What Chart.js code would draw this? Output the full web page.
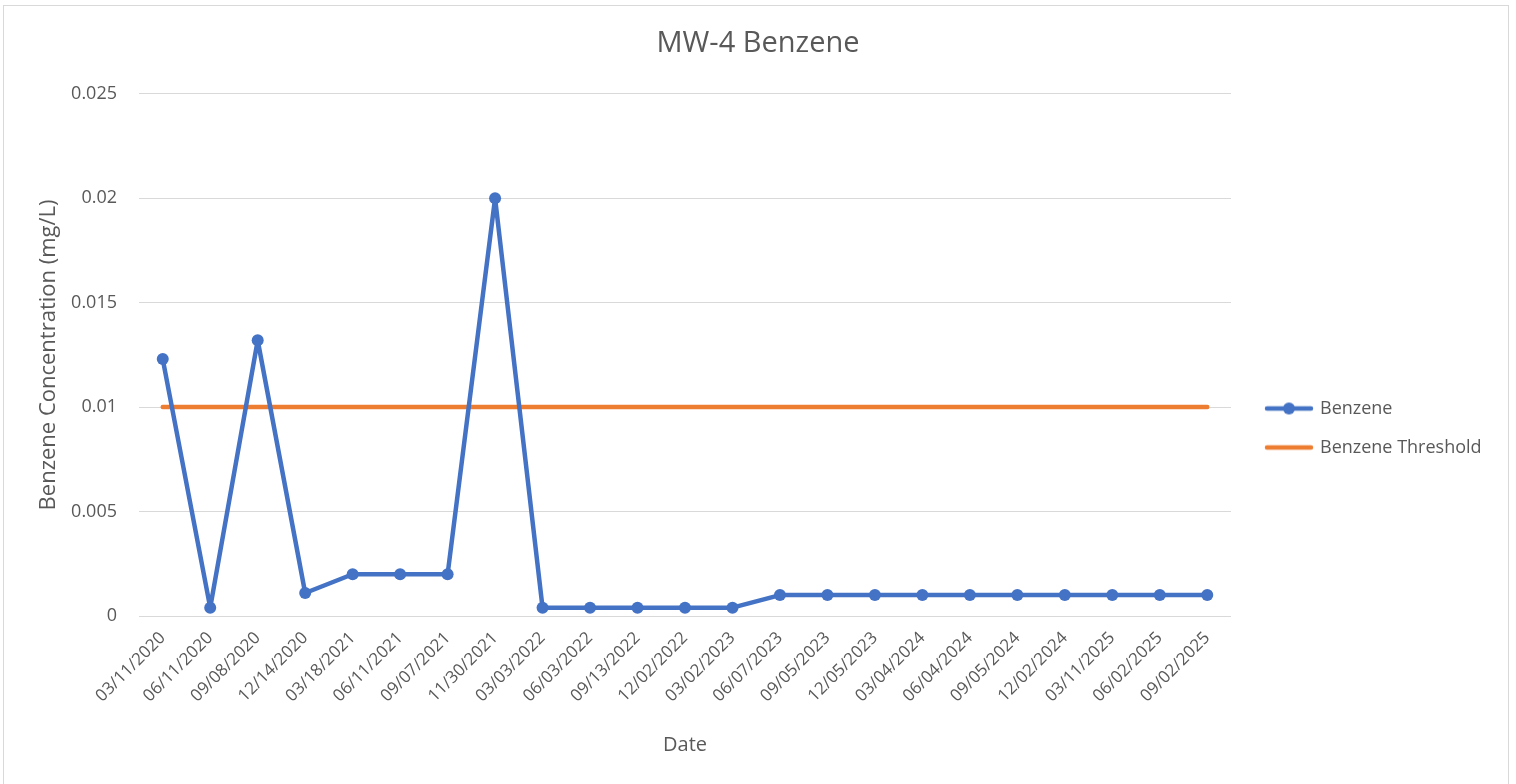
<!DOCTYPE html>
<html>
<head>
<meta charset="utf-8">
<title>MW-4 Benzene</title>
<script src="https://cdn.jsdelivr.net/npm/chart.js@4.4.1/dist/chart.umd.min.js"></script>
<style>
  html,body{margin:0;padding:0;background:#fff}
  #wrap{width:1516px;height:784px}
</style>
</head>
<body>
<div id="wrap"><canvas id="chart" width="1516" height="784"></canvas></div>
<script>
// sample dates and results
const dates = ['03/11/2020','06/11/2020','09/08/2020','12/14/2020','03/18/2021','06/11/2021','09/07/2021','11/30/2021',
  '03/03/2022','06/03/2022','09/13/2022','12/02/2022','03/02/2023','06/07/2023','09/05/2023','12/05/2023',
  '03/04/2024','06/04/2024','09/05/2024','12/02/2024','03/11/2025','06/02/2025','09/02/2025'];
const benzene = [0.0123,0.0004,0.0132,0.0011,0.002,0.002,0.002,0.02,
  0.0004,0.0004,0.0004,0.0004,0.0004,0.001,0.001,0.001,
  0.001,0.001,0.001,0.001,0.001,0.001,0.001];
const threshold = [0.01,0.01,0.01,0.01,0.01,0.01,0.01,0.01,
  0.01,0.01,0.01,0.01,0.01,0.01,0.01,0.01,
  0.01,0.01,0.01,0.01,0.01,0.01,0.01];
const yMin = 0, yMax = 0.025, yStep = 0.005;

const BLUE = '#4472C4', ORANGE = '#ED7D31', TEXT = '#595959', GRID = '#d9d9d9';
const FONT = "'Open Sans', 'Noto Sans', sans-serif";

function legendIcon(color, marker){
  const c = document.createElement('canvas'); c.width = 50; c.height = 14;
  const g = c.getContext('2d');
  g.strokeStyle = color; g.lineWidth = 4.5; g.lineCap = 'round';
  g.beginPath(); g.moveTo(3,7); g.lineTo(47,7); g.stroke();
  if (marker){ g.fillStyle = color; g.beginPath(); g.arc(25,7,6,0,Math.PI*2); g.fill(); }
  return c;
}
const icons = [legendIcon(BLUE,true), legendIcon(ORANGE,false)];

// legend gets a fixed slot on the right, items nudged like the original
const legendSlot = {
  id:'legendSlot',
  beforeLayout(chart){
    const lg = chart.legend;
    if (lg && !lg._slotFixed){
      const fit = lg.fit.bind(lg);
      lg.fit = function(){ fit(); this.width = 285; };
      lg._slotFixed = true;
    }
  },
  afterLayout(chart){
    const lg = chart.legend;
    lg.left += 15; lg.right += 15;
    lg.top += 46; lg.bottom += 46;
  }
};
const frame = {
  id:'frame',
  beforeDraw(chart){
    const c = chart.ctx;
    c.save();
    c.fillStyle = '#fff'; c.fillRect(0,0,chart.width,chart.height);
    c.strokeStyle = GRID; c.lineWidth = 1;
    c.strokeRect(3.5,5.5,1505,800);
    c.restore();
  }
};

const ctx = document.getElementById('chart').getContext('2d');
new Chart(ctx,{
  type:'line',
  data:{labels:dates, datasets:[
    {label:'Benzene',data:benzene,borderColor:BLUE,backgroundColor:BLUE,borderWidth:4.5,borderJoinStyle:'round',
     pointRadius:6,pointBackgroundColor:BLUE,pointBorderColor:BLUE,pointBorderWidth:0,tension:0},
    {label:'Benzene Threshold',data:threshold,borderColor:ORANGE,backgroundColor:ORANGE,borderWidth:4.5,
     borderCapStyle:'round',pointRadius:0,tension:0}
  ]},
  options:{
    responsive:false, animation:false, devicePixelRatio:1,
    layout:{padding:{left:0,right:0,top:0,bottom:20}},
    plugins:{
      title:{display:true,text:'MW-4 Benzene',color:TEXT,font:{family:FONT,size:29,weight:'normal'},padding:{top:26,bottom:33}},
      legend:{position:'right',align:'center',
        labels:{usePointStyle:true,pointStyleWidth:44,padding:21,color:TEXT,font:{family:FONT,size:18},
          generateLabels(chart){
            const items = Chart.defaults.plugins.legend.labels.generateLabels(chart);
            items.forEach((it,i)=>{ it.pointStyle = icons[i]; });
            return items;
          }}},
      tooltip:{enabled:false}
    },
    scales:{
      x:{type:'category',offset:true,
        grid:{display:false,drawTicks:false},border:{display:false},
        ticks:{color:TEXT,font:{family:FONT,size:17},minRotation:45,maxRotation:45,autoSkip:false,padding:12},
        title:{display:true,text:'Date',color:TEXT,font:{family:FONT,size:20},padding:{top:4,bottom:7}},
        afterFit(s){ s.height = 148; }},
      y:{min:yMin,max:yMax,
        grid:{color:GRID,lineWidth:1,drawTicks:false},border:{display:false},
        ticks:{stepSize:yStep,color:TEXT,font:{family:FONT,size:18},padding:22,
          callback:v=>String(+Number(v).toFixed(3))},
        title:{display:true,text:'Benzene Concentration (mg/L)',color:TEXT,font:{family:FONT,size:22},padding:{top:36,bottom:0}},
        afterFit(s){ s.width = 139; }}
    }
  },
  plugins:[legendSlot,frame]
});
</script>
</body>
</html>
